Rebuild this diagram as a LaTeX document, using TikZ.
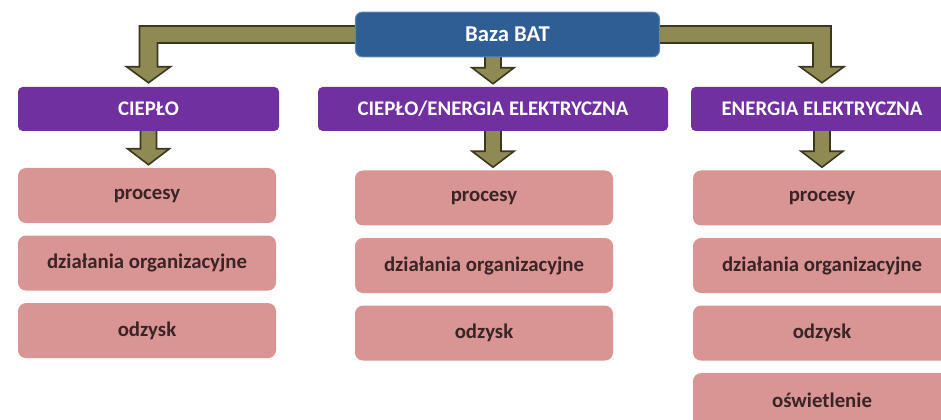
\documentclass[tikz,border=0pt]{standalone}
\usepackage{fontspec}
\setmainfont{Carlito}
\usetikzlibrary{positioning,calc,backgrounds}

\definecolor{bazablue}{HTML}{2E5E93}
\definecolor{bazaline}{HTML}{5B86B8}
\definecolor{fiolet}{HTML}{7030A0}
\definecolor{roz}{HTML}{D99594}
\definecolor{brazowy}{HTML}{3A2426}
\definecolor{oliwka}{HTML}{8F8954}
\definecolor{obrys}{HTML}{3C3820}

\newcommand{\wdol}[2]{%
  \draw[rura] ($(#1)+(-8,-3)$) -- ($(#2)+(-8,-19)$) -- ($(#2)+(-21,-19)$)
    -- ($(#2)+(0,-3)$) -- ($(#2)+(21,-19)$) -- ($(#2)+(8,-19)$)
    -- ($(#1)+(8,-3)$) -- cycle;}
\newcommand{\wbok}[3]{%
  \draw[rura] ($(#1)+({-3*#3},-8.5)$) -| ($(#2)+({9*#3},-20)$) -- ($(#2)+({22*#3},-20)$)
    -- ($(#2)+(0,-4)$) -- ($(#2)+({-22*#3},-20)$) -- ($(#2)+({-9*#3},-20)$)
    |- ($(#1)+({-3*#3},8.5)$) -- cycle;}

\tikzset{
  baza/.style = {fill = bazablue, draw = bazaline, line width = 0.8pt, rounded corners = 5pt,
    minimum width = 228pt, minimum height = 33.5pt, text = white,
    font = \bfseries\fontsize{17}{20}\selectfont},
  naglowek/.style = {fill = fiolet, rounded corners = 3.5pt, minimum height = 33pt,
    text = white, font = \bfseries\fontsize{15.6}{18}\selectfont},
  kafel/.style = {fill = roz, rounded corners = 6pt, minimum width = 193.5pt,
    minimum height = 41.25pt, text = brazowy, font = \bfseries\fontsize{15.6}{18}\selectfont},
  rura/.style = {draw = obrys, fill = oliwka, line width = 1.2pt, line join = miter},
}

\begin{document}
\begin{tikzpicture}[x = 0.75pt, y = -0.75pt]
\useasboundingbox (0,0) rectangle (941,420);
\clip (0,0) rectangle (941,420);

\node[baza] (baza) at (507.5,34.5) {Baza BAT};

\node[naglowek, minimum width = 195.75pt] (cieplo) at (148.5,109) {CIEPŁO};
\node[naglowek, minimum width = 262.5pt] (cee) at (493,109) {CIEPŁO/ENERGIA ELEKTRYCZNA};
\node[naglowek, minimum width = 196.5pt] (ee) at (822,109) {ENERGIA ELEKTRYCZNA};

\node[kafel] (p1) at (147,195.5) {procesy};
\node[kafel, below = 9pt of p1] (d1) {działania organizacyjne};
\node[kafel, below = 9pt of d1] (o1) {odzysk};

\node[kafel] (p2) at (484,198) {procesy};
\node[kafel, below = 9pt of p2] (d2) {działania organizacyjne};
\node[kafel, below = 9pt of d2] (o2) {odzysk};

\node[kafel] (p3) at (822,198) {procesy};
\node[kafel, below = 9pt of p3] (d3) {działania organizacyjne};
\node[kafel, below = 9pt of d3] (o3) {odzysk};
\node[kafel, below = 9pt of o3] (s3) {oświetlenie};

\begin{scope}[on background layer]
\wbok{baza.west}{cieplo.north}{-1}
\wbok{baza.east}{ee.north}{1}
\wdol{cee.north |- baza.south}{cee.north}
\wdol{cieplo.south}{cieplo.south |- p1.north}
\wdol{cee.south}{cee.south |- p2.north}
\wdol{ee.south}{ee.south |- p3.north}
\end{scope}
\end{tikzpicture}
\end{document}
